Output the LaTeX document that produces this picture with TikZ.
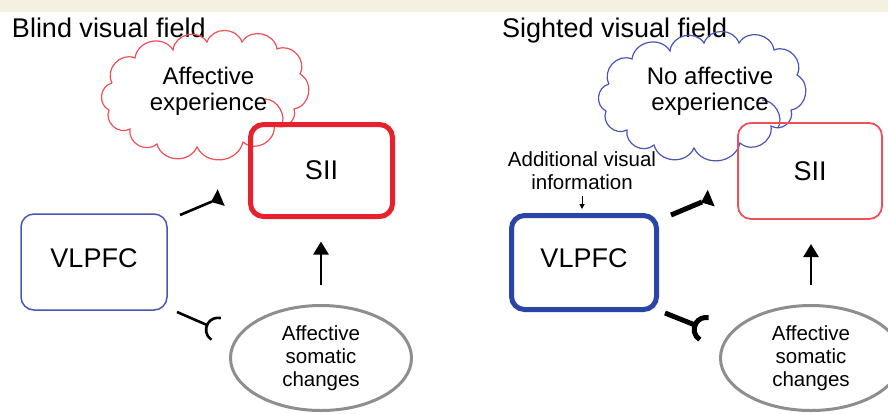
\documentclass[tikz,border=0pt]{standalone}
\usepackage{fontspec}
\setmainfont{Liberation Sans}
\usetikzlibrary{shapes.geometric,arrows.meta}
\definecolor{bandbg}{HTML}{F4F0E2}
\definecolor{sred}{HTML}{E8212E}
\definecolor{lred}{HTML}{F0505A}
\definecolor{sblue}{HTML}{2B45A6}
\definecolor{lblue}{HTML}{4C55B5}
\definecolor{egray}{HTML}{8E8E8E}
\tikzset{
  excite/.pic={\fill (-1,0) -- (10,9) -- (10,-9) -- cycle;},
  inhibit/.pic={\draw (12,0) ++(100:12) arc[start angle=100,end angle=260,radius=12];},
  puff/.style={bend left=70,looseness=1.2},
  thoughtcloud/.pic={
    \draw (-94,-12) to[puff] (-71,-37) to[puff] (-33,-45) to[puff] (1,-53)
      to[puff] (36,-53) to[puff] (71,-46) to[puff] (94,-21) to[puff] (88,14)
      to[puff] (68,30) to[puff] (37,47) to[puff] (-9,52) to[puff] (-49,49)
      to[puff] (-76,34) to[puff] (-97,15) to[puff] (-94,-12);
    \draw (59,4) to[bend left=60] (75,32);
  },
}
\begin{document}
\begin{tikzpicture}[x=1pt,y=-1pt,
  every node/.style={inner sep=0pt,outer sep=0pt},
  title/.style={anchor=base west,font=\fontsize{27}{31}\selectfont},
  areabox/.style={draw,rounded corners=13pt,font=\fontsize{27}{31}\selectfont},
  cloudtext/.style={align=center,font=\fontsize{24}{26}\selectfont},
  somatic/.style={ellipse,draw=egray,line width=3pt,minimum width=181pt,minimum height=105pt,
    align=center,font=\fontsize{20.5}{23}\selectfont},
  upflow/.style={line width=2.6pt,-{Triangle[length=13pt,width=15pt]},shorten <=20.5pt,shorten >=25pt},
]
\useasboundingbox (0,0) rectangle (888,413);
\fill[white] (0,0) rectangle (888,413);
\fill[bandbg] (0,0) rectangle (888,12);

% ---------- blind visual field ----------
\node[title] (t1) at (12,37) {Blind visual field};
\pic[color=lred,line width=1.2pt] at (206,95) {thoughtcloud};
\node[cloudtext] (ct1) at (208.5,91.5) {Affective\\experience};
\node[areabox,draw=sred,line width=5pt,minimum width=142pt,minimum height=92pt] (sii1) at (321.5,170.5) {SII};
\node[areabox,draw=lblue,line width=1.5pt,minimum width=146pt,minimum height=96pt,text depth=8pt] (vl1) at (94,262) {VLPFC};
\node[somatic] (ell1) at (321,358) {Affective\\somatic\\changes};
\draw[upflow] (ell1.north) -- (ell1.north |- sii1.south);

\coordinate (e1s) at (180,215);
\coordinate (e1e) at (212,201.5);
\draw[line width=2.6pt] (e1s) -- (e1e) pic[pos=1,sloped] {excite};
\coordinate (i1s) at (177,312);
\coordinate (i1e) at (207,325);
\draw[line width=2.6pt] (i1s) -- (i1e) pic[pos=1,sloped,line width=2.6pt] {inhibit};

% ---------- sighted visual field ----------
\node[title] (t2) at (502,37) {Sighted visual field};
\pic[color=lblue,line width=1.2pt] at (703,96) {thoughtcloud};
\node[cloudtext] (ct2) at (710,91.5) {No affective\\experience};
\node[areabox,draw=lred,line width=1.8pt,minimum width=144pt,minimum height=96pt] (sii2) at (810,171) {SII};
\node[areabox,draw=sblue,line width=5pt,minimum width=145pt,minimum height=94pt,text depth=8pt] (vl2) at (584,262.5) {VLPFC};
\node[somatic] (ell2) at (811,358) {Affective\\somatic\\changes};
\draw[upflow] (ell2.north) -- (ell2.north |- sii2.south);

\node[anchor=south,align=center,font=\fontsize{20.5}{23}\selectfont] (addl) at (582,190) {Additional visual\\information};
\draw[line width=1pt,-{Triangle[length=5pt,width=5pt]},shorten <=6pt,shorten >=6.5pt] (addl.south) -- (addl.south |- vl2.north);

\coordinate (e2s) at (671,215);
\coordinate (e2e) at (702,202);
\draw[line width=5pt] (e2s) -- (e2e) pic[pos=1,sloped] {excite};
\coordinate (i2s) at (665,313);
\coordinate (i2e) at (695,325);
\draw[line width=5pt] (i2s) -- (i2e) pic[pos=1,sloped,line width=5pt] {inhibit};
\end{tikzpicture}
\end{document}
